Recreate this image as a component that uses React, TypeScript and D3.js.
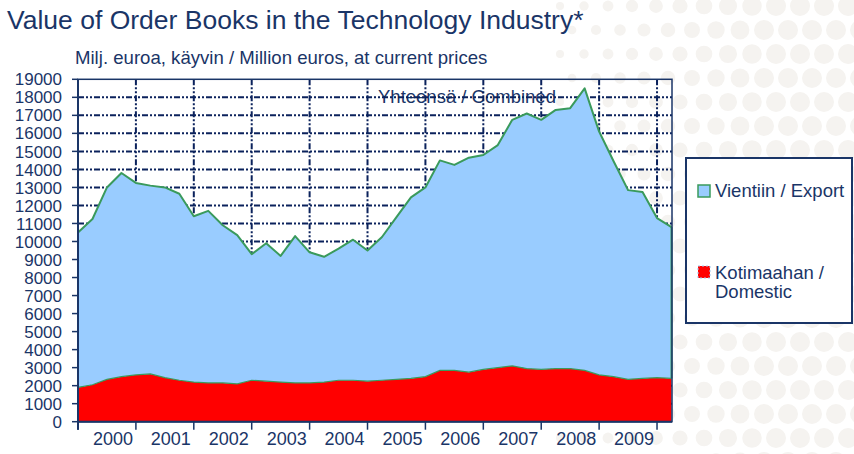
import React from 'react';
import * as d3 from 'd3';

const quarters = [
  '2000 Q1','2000 Q2','2000 Q3','2000 Q4','2001 Q1','2001 Q2','2001 Q3','2001 Q4',
  '2002 Q1','2002 Q2','2002 Q3','2002 Q4','2003 Q1','2003 Q2','2003 Q3','2003 Q4',
  '2004 Q1','2004 Q2','2004 Q3','2004 Q4','2005 Q1','2005 Q2','2005 Q3','2005 Q4',
  '2006 Q1','2006 Q2','2006 Q3','2006 Q4','2007 Q1','2007 Q2','2007 Q3','2007 Q4',
  '2008 Q1','2008 Q2','2008 Q3','2008 Q4','2009 Q1','2009 Q2','2009 Q3','2009 Q4',
  '2010 Q1','2010 Q2'
];

const domestic = [
  1900, 2050, 2350, 2500, 2600, 2650, 2450, 2300, 2200, 2150,
  2150, 2100, 2300, 2250, 2200, 2150, 2150, 2200, 2300, 2300,
  2250, 2300, 2350, 2400, 2500, 2850, 2850, 2750, 2900, 3000,
  3100, 2950, 2900, 2950, 2950, 2850, 2600, 2500, 2350, 2400,
  2450, 2400
];

const exportValues = [
  8600, 9200, 10650, 11300, 10650, 10450, 10550, 10350, 9200, 9550,
  8750, 8250, 7000, 7650, 7000, 8150, 7250, 6950, 7300, 7800,
  7250, 7950, 9000, 10050, 10500, 11650, 11400, 11900, 11900, 12350,
  13650, 14150, 13850, 14350, 14450, 15650, 13500, 11950, 10500, 10350,
  8850, 8400
];

const years = ['2000','2001','2002','2003','2004','2005','2006','2007','2008','2009'];

const titleText = 'Value of Order Books in the Technology Industry*';
const subtitleText = 'Milj. euroa, käyvin / Million euros, at current prices';
const combinedLabel = 'Yhteensä / Combined';
const legendExport = 'Vientiin / Export';
const legendDomestic = ['Kotimaahan /', 'Domestic'];

const NAVY = '#1a3567';
const GRID = '#0b225c';
const BLUE = '#99ccff';
const GREEN = '#3a9a5c';
const RED = '#ff0000';
const FONT = 'Liberation Sans, Arial, sans-serif';

export default function App() {
  const W = 854, H = 454;
  const x = d3.scaleLinear().domain([0, quarters.length - 1]).range([78, 671.5]);
  const y = d3.scaleLinear().domain([0, 19000]).range([421.7, 79.3]);
  const plotL = 78, plotR = 672, plotT = y(19000), plotB = y(0);

  const rows = quarters.map((q, i) => ({ q, domestic: domestic[i], exp: exportValues[i] }));
  const series = d3.stack<any>().keys(['domestic', 'exp'])(rows);
  const area = d3.area<any>()
    .x((_d, i) => x(i))
    .y0((d) => y(d[0]))
    .y1((d) => y(d[1]));
  const line = d3.line<any>().x((_d, i) => x(i)).y((d) => y(d[1]));

  const yTicks = y.ticks(19);
  const yearTicks = years.map((_yr, i) => i * 4).concat([40]);

  // decorative background dots
  const dots: { cx: number; cy: number; r: number }[] = [];
  for (let gx = 560; gx < 870; gx += 24) {
    for (let gy = 6; gy < 470; gy += 24) {
      const off = ((gy - 6) / 24) % 2 === 0 ? 0 : 12;
      const t = Math.min(1, (gx + off - 560) / 200);
      dots.push({ cx: gx + off, cy: gy, r: 4 + 6 * t });
    }
  }

  return (
    <div style={{ position: 'fixed', left: 0, top: 0, width: W, height: H, background: '#fff' }}>
      <svg width={W} height={H} style={{ display: 'block' }} fontFamily={FONT}>
        <rect x={0} y={0} width={W} height={H} fill="#ffffff" />
        <g fill="#f5f3f0">
          {dots.map((d, i) => (
            <circle key={i} cx={d.cx} cy={d.cy} r={d.r} />
          ))}
        </g>

        <text x={7} y={29} fontSize={26.5} fill={NAVY}>{titleText}</text>
        <text x={75} y={64} fontSize={18.6} fill={NAVY}>{subtitleText}</text>

        {/* combined label under grid */}
        <text x={378} y={103} fontSize={18.5} fill={NAVY}>{combinedLabel}</text>

        {/* gridlines */}
        <g stroke={GRID} strokeWidth={2} strokeDasharray="6 2 2 2 2 2" fill="none">
          {yTicks.filter((t) => t > 0 && t < 19000).map((t) => (
            <line key={'h' + t} x1={plotL} x2={plotR} y1={y(t)} y2={y(t)} />
          ))}
          {yearTicks.filter((k) => k > 0).map((k) => (
            <line key={'v' + k} x1={x(k)} x2={x(k)} y1={plotT} y2={plotB} />
          ))}
        </g>

        {/* areas */}
        <path d={area(series[0] as any) || ''} fill={RED} />
        <path d={area(series[1] as any) || ''} fill={BLUE} />
        <path d={line(series[0] as any) || ''} fill="none" stroke={GREEN} strokeWidth={1.2} />
        <path d={line(series[1] as any) || ''} fill="none" stroke={GREEN} strokeWidth={2} strokeLinejoin="round" />
        <line
          x1={x(quarters.length - 1)} x2={x(quarters.length - 1)}
          y1={y(domestic[domestic.length - 1])}
          y2={y(domestic[domestic.length - 1] + exportValues[exportValues.length - 1])}
          stroke={GREEN} strokeWidth={2}
        />

        {/* frame and axes */}
        <rect x={plotL} y={plotT} width={plotR - plotL} height={plotB - plotT} fill="none" stroke={NAVY} strokeWidth={1.5} />
        <line x1={plotL} x2={plotL} y1={plotT} y2={plotB + 8} stroke={NAVY} strokeWidth={2} />
        <line x1={plotL} x2={plotR} y1={plotB} y2={plotB} stroke={NAVY} strokeWidth={2} />
        {yTicks.map((t) => (
          <g key={'yt' + t}>
            <line x1={72} x2={plotL} y1={y(t)} y2={y(t)} stroke={NAVY} strokeWidth={1.5} />
            <text x={62} y={y(t)} dy="0.36em" textAnchor="end" fontSize={17} fill={NAVY}>{t}</text>
          </g>
        ))}
        {yearTicks.map((k) => (
          <line key={'xt' + k} x1={x(k)} x2={x(k)} y1={plotB} y2={plotB + 8} stroke={NAVY} strokeWidth={1.5} />
        ))}
        {years.map((yr, i) => (
          <text key={yr} x={(x(i * 4) + x(i * 4 + 4)) / 2 + 6} y={445} textAnchor="middle" fontSize={18} fill={NAVY}>{yr}</text>
        ))}

        {/* legend */}
        <rect x={686} y={158} width={166} height={165} fill="#ffffff" stroke={NAVY} strokeWidth={2} />
        <rect x={698} y={185} width={12} height={12} fill={BLUE} stroke={GREEN} strokeWidth={1.5} />
        <text x={715} y={197} fontSize={18.5} fill={NAVY}>{legendExport}</text>
        <rect x={698} y={266} width={12} height={12} fill={RED} stroke="#9ec9f0" strokeWidth={1} strokeDasharray="2 2" />
        <text x={715} y={279} fontSize={18.5} fill={NAVY}>{legendDomestic[0]}</text>
        <text x={715} y={298} fontSize={18.5} fill={NAVY}>{legendDomestic[1]}</text>
      </svg>
    </div>
  );
}
